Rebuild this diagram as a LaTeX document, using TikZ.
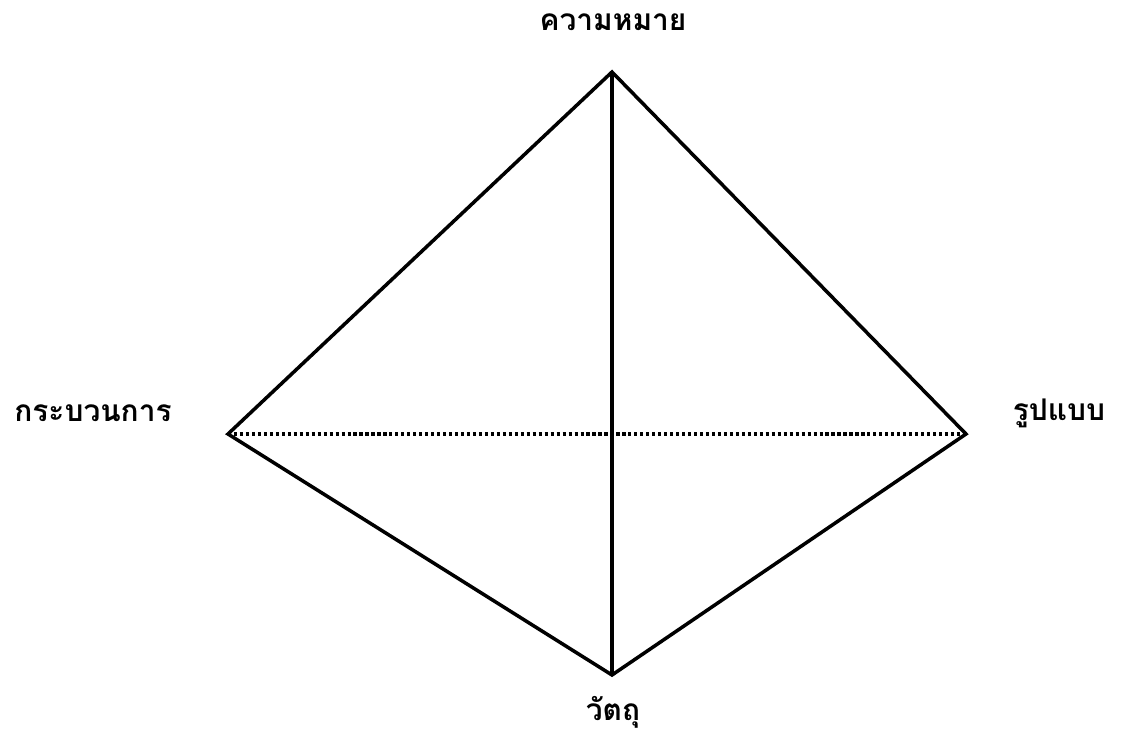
\documentclass[tikz,border=0pt]{standalone}
\usepackage{fontspec}
\newfontfamily\thaifont[Script=Thai]{Loma}
\usetikzlibrary{positioning,calc}

\begin{document}
\begin{tikzpicture}[
  label/.style={font=\thaifont\bfseries\fontsize{17}{20}\selectfont,inner sep=0pt},
  edge/.style={line width=2pt,line join=miter},
  hidden/.style={line width=1.8pt,dash pattern=on 1.8pt off 1.6pt}
]
  \useasboundingbox (0,0) rectangle (22.46,14.74);
  \coordinate (top) at (12.24,13.30);
  \coordinate (left) at (4.56,6.06);
  \coordinate (right) at (19.32,6.06);
  \coordinate (bottom) at (12.24,1.24);

  \node[label] (meaning) at (12.26,14.30) {ความหมาย};
  \node[label] (process) at (1.86,6.48) {กระบวนการ};
  \node[label] (form) at (21.18,6.48) {รูปแบบ};
  \node[label] (object) at (12.26,0.50) {วัตถุ};

  \draw[edge] (left) -- (top) -- (right) -- (bottom) -- cycle;
  \draw[edge] (top) -- (bottom);
  \draw[hidden] (left) -- (right);
\end{tikzpicture}
\end{document}
